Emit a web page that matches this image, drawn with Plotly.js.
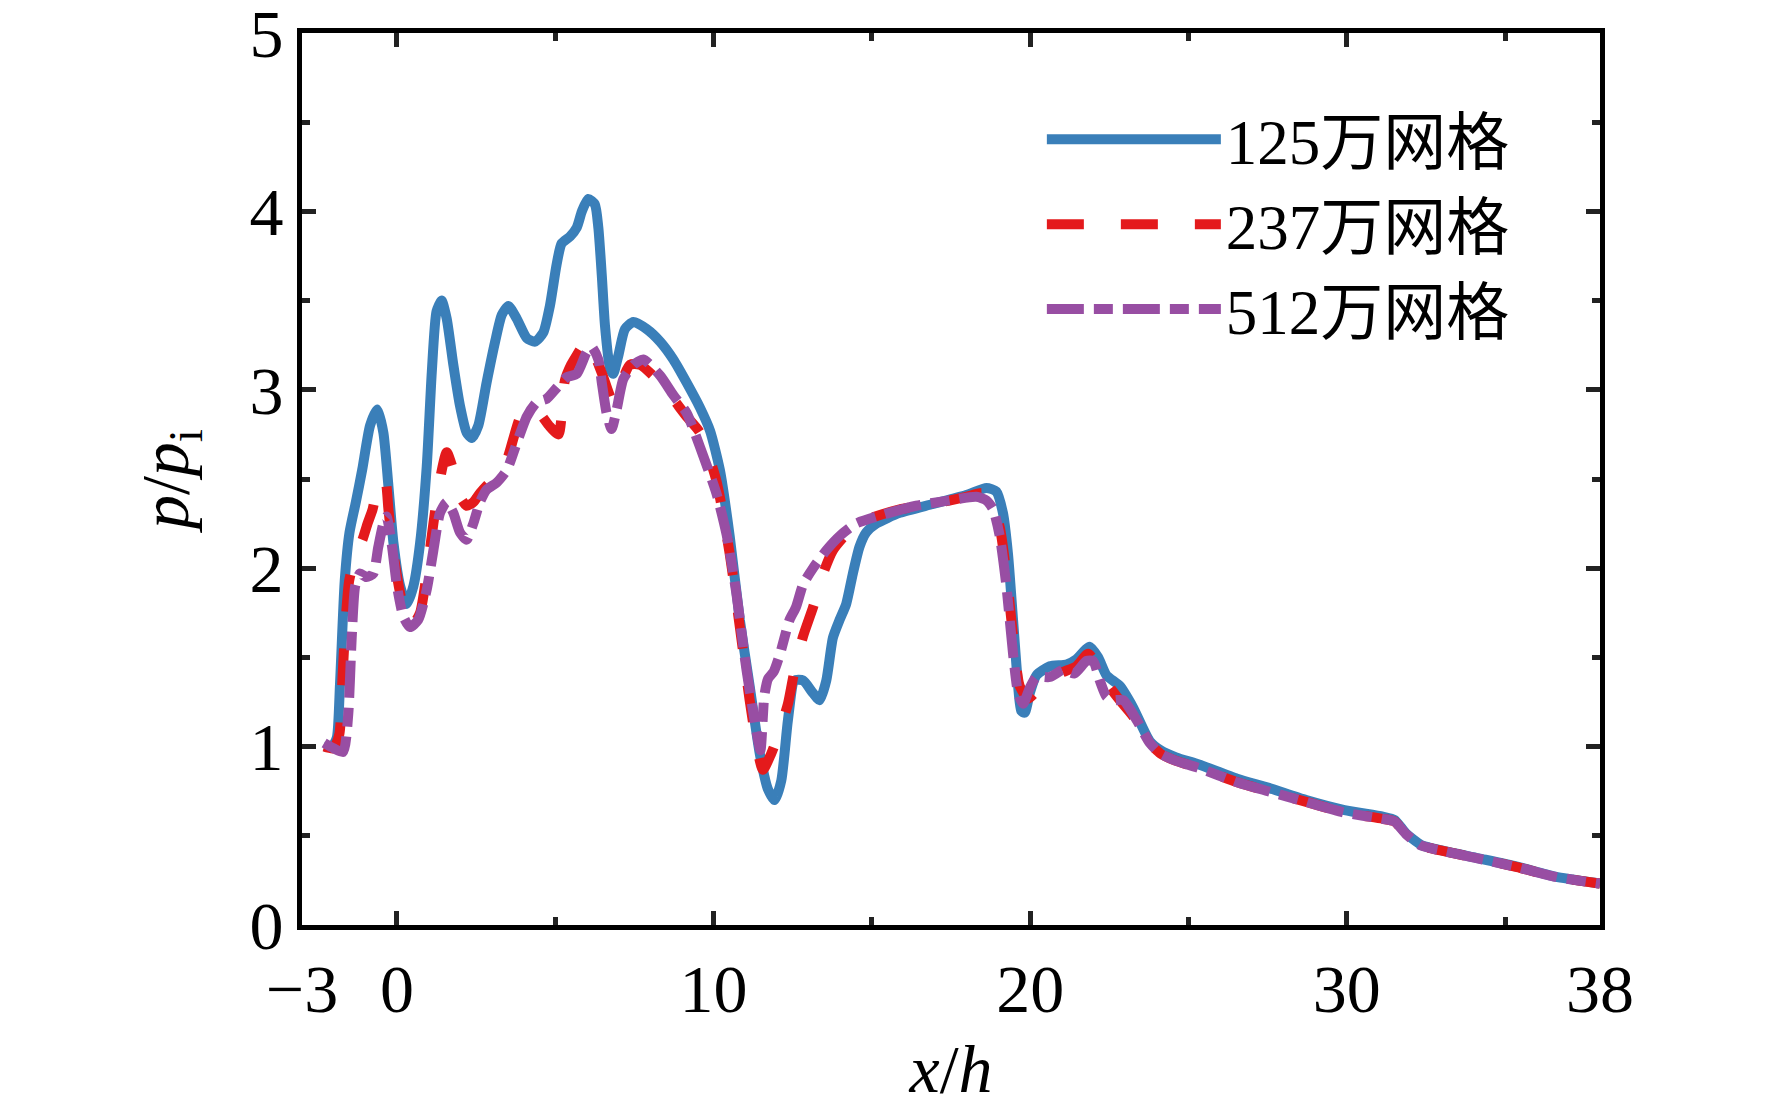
<!DOCTYPE html>
<html>
<head>
<meta charset="utf-8">
<script src="https://cdn.plot.ly/plotly-3.0.1.min.js"></script>
<style>
  html, body { margin: 0; padding: 0; background: #fff; }
  #chart { width: 1772px; height: 1111px; }
</style>
</head>
<body>
<div id="chart"></div>
<script>
// 125万网格
const xCoarse = [-2.3, -2.05, -1.9, -1.8, -1.65, -1.5, -1.3, -1.1, -0.85, -0.62, -0.43, -0.27, -0.11, 0.1, 0.31, 0.52, 0.73, 0.94, 1.1, 1.25, 1.41, 1.57, 1.78, 1.99, 2.2, 2.36, 2.57, 2.83, 3.1, 3.31, 3.52, 3.78, 4.1, 4.36, 4.62, 4.83, 5.04, 5.2, 5.47, 5.68, 5.84, 6.04, 6.25, 6.36, 6.47, 6.57, 6.73, 6.83, 6.99, 7.2, 7.47, 7.89, 8.31, 8.73, 9.15, 9.57, 9.89, 10.2, 10.51, 10.83, 11.14, 11.46, 11.72, 11.93, 12.14, 12.35, 12.56, 12.83, 13.14, 13.35, 13.56, 13.77, 13.98, 14.19, 14.4, 14.61, 14.82, 15.14, 15.88, 16.93, 17.98, 18.62, 18.93, 19.14, 19.3, 19.46, 19.62, 19.72, 19.83, 19.99, 20.2, 20.62, 21.15, 21.46, 21.88, 22.15, 22.41, 22.83, 23.25, 23.78, 24.12, 24.61, 25.33, 26.54, 27.51, 28.72, 29.93, 31.14, 31.51, 31.87, 32.35, 32.96, 34.17, 35.38, 36.59, 37.92, 38];
const yCoarse = [1.00, 1.00, 1.05, 1.35, 1.93, 2.20, 2.37, 2.55, 2.80, 2.89, 2.76, 2.46, 2.14, 1.90, 1.80, 1.90, 2.14, 2.57, 3.10, 3.44, 3.50, 3.40, 3.14, 2.91, 2.76, 2.73, 2.80, 3.04, 3.27, 3.42, 3.47, 3.40, 3.29, 3.27, 3.32, 3.47, 3.70, 3.82, 3.86, 3.91, 4.00, 4.07, 4.04, 3.91, 3.64, 3.36, 3.12, 3.09, 3.19, 3.34, 3.38, 3.34, 3.27, 3.17, 3.04, 2.90, 2.77, 2.55, 2.18, 1.71, 1.34, 0.96, 0.76, 0.70, 0.81, 1.15, 1.37, 1.37, 1.30, 1.26, 1.37, 1.61, 1.71, 1.80, 1.97, 2.12, 2.20, 2.25, 2.31, 2.36, 2.41, 2.45, 2.43, 2.31, 2.08, 1.71, 1.34, 1.20, 1.19, 1.30, 1.40, 1.45, 1.46, 1.49, 1.56, 1.50, 1.40, 1.34, 1.22, 1.03, 0.98, 0.94, 0.90, 0.82, 0.77, 0.70, 0.644, 0.607, 0.589, 0.514, 0.449, 0.42, 0.374, 0.327, 0.271, 0.234, 0.232];

// 237万网格
const xMedium = [-2.3, -2.0, -1.82, -1.72, -1.62, -1.51, -1.3, -1.09, -0.93, -0.77, -0.6, -0.38, -0.27, -0.11, 0.1, 0.31, 0.52, 0.73, 0.94, 1.15, 1.36, 1.57, 1.78, 1.99, 2.2, 2.41, 2.62, 2.94, 3.2, 3.5, 3.9, 4.2, 4.5, 4.8, 5.1, 5.3, 5.5, 5.8, 5.94, 6.1, 6.3, 6.5, 6.83, 7.04, 7.36, 7.68, 8.2, 8.63, 9.15, 9.57, 10.09, 10.51, 10.83, 11.14, 11.41, 11.56, 11.82, 12.09, 12.35, 12.56, 12.83, 13.14, 13.46, 13.77, 14.19, 14.82, 15.88, 16.93, 17.98, 18.51, 18.83, 19.04, 19.25, 19.46, 19.67, 19.94, 20.2, 20.52, 20.94, 21.46, 21.83, 22.15, 22.41, 22.83, 23.25, 23.78, 24.12, 24.61, 25.33, 26.54, 27.51, 28.72, 29.93, 31.14, 31.51, 31.87, 32.35, 32.96, 34.17, 35.38, 36.59, 37.92, 38];
const yMedium = [1.00, 0.99, 1.07, 1.39, 1.71, 1.93, 2.08, 2.16, 2.25, 2.33, 2.46, 2.50, 2.33, 2.08, 1.86, 1.71, 1.69, 1.75, 1.97, 2.25, 2.50, 2.65, 2.55, 2.40, 2.35, 2.37, 2.42, 2.48, 2.50, 2.62, 2.85, 2.91, 2.87, 2.80, 2.75, 3.05, 3.14, 3.23, 3.28, 3.23, 3.17, 3.08, 2.93, 3.02, 3.14, 3.14, 3.06, 2.97, 2.85, 2.76, 2.49, 2.08, 1.67, 1.26, 0.96, 0.87, 0.96, 1.09, 1.24, 1.43, 1.62, 1.78, 1.97, 2.10, 2.19, 2.27, 2.33, 2.36, 2.40, 2.42, 2.34, 2.23, 1.97, 1.62, 1.34, 1.27, 1.31, 1.35, 1.41, 1.45, 1.52, 1.45, 1.36, 1.26, 1.17, 1.02, 0.96, 0.92, 0.88, 0.80, 0.75, 0.69, 0.63, 0.595, 0.58, 0.51, 0.445, 0.418, 0.372, 0.325, 0.27, 0.234, 0.232];

// 512万网格
const xFine = [-2.3, -2.0, -1.7, -1.54, -1.43, -1.32, -1.17, -0.96, -0.75, -0.59, -0.43, -0.33, -0.17, 0.0, 0.2, 0.41, 0.67, 0.94, 1.15, 1.36, 1.57, 1.78, 1.99, 2.2, 2.41, 2.62, 2.83, 3.15, 3.47, 3.78, 4.1, 4.41, 4.73, 5.04, 5.36, 5.68, 5.99, 6.15, 6.36, 6.47, 6.62, 6.78, 6.94, 7.15, 7.47, 7.78, 8.31, 8.73, 9.15, 9.57, 10.09, 10.41, 10.72, 11.04, 11.35, 11.48, 11.6, 11.72, 11.9, 12.1, 12.4, 12.6, 12.83, 13.14, 13.56, 13.98, 14.5, 15.35, 16.4, 17.45, 18.3, 18.62, 18.83, 19.04, 19.25, 19.46, 19.62, 19.78, 19.99, 20.2, 20.62, 21.04, 21.4, 21.78, 21.99, 22.2, 22.41, 22.62, 22.94, 23.36, 23.78, 24.12, 24.61, 25.33, 26.54, 27.51, 28.72, 29.93, 31.14, 31.51, 31.87, 32.35, 32.96, 34.17, 35.38, 36.59, 37.92, 38];
const yFine = [1.02, 0.99, 0.97, 1.18, 1.61, 1.90, 1.97, 1.95, 1.97, 2.12, 2.25, 2.29, 2.14, 1.90, 1.73, 1.67, 1.71, 1.88, 2.10, 2.31, 2.37, 2.31, 2.20, 2.16, 2.25, 2.37, 2.44, 2.48, 2.55, 2.70, 2.85, 2.93, 2.95, 3.01, 3.07, 3.09, 3.21, 3.24, 3.17, 3.04, 2.87, 2.78, 2.89, 3.06, 3.14, 3.17, 3.08, 2.97, 2.87, 2.68, 2.42, 2.19, 1.86, 1.43, 1.09, 0.98, 1.28, 1.38, 1.42, 1.52, 1.71, 1.78, 1.91, 2.00, 2.10, 2.18, 2.25, 2.30, 2.35, 2.38, 2.40, 2.38, 2.33, 2.18, 1.90, 1.52, 1.30, 1.24, 1.33, 1.39, 1.39, 1.43, 1.41, 1.48, 1.48, 1.37, 1.28, 1.26, 1.26, 1.15, 1.02, 0.96, 0.92, 0.88, 0.80, 0.75, 0.69, 0.63, 0.595, 0.58, 0.51, 0.445, 0.418, 0.372, 0.325, 0.27, 0.234, 0.232];

const seriesNames = ['125万网格', '237万网格', '512万网格'];
const xTickVals = [-3, 0, 10, 20, 30, 38];
const xTickText = ['−3', '0', '10', '20', '30', '38'];
const xMinorVals = [5, 15, 25, 35];
const yTickVals = [0, 1, 2, 3, 4, 5];

const colors = { blue: '#3a7fb9', red: '#e41a1c', purple: '#984ea3' };
const serif = '"Liberation Serif", "Times New Roman", "Noto Sans CJK SC", serif';

const traces = [
    {
        x: xCoarse, y: yCoarse, name: seriesNames[0], type: 'scatter', mode: 'lines',
        line: { color: colors.blue, width: 10, shape: 'spline', smoothing: 0.6 }
    },
    {
        x: xMedium, y: yMedium, name: seriesNames[1], type: 'scatter', mode: 'lines',
        line: { color: colors.red, width: 10, shape: 'spline', smoothing: 0.6, dash: '37px,37px' }
    },
    {
        x: xFine, y: yFine, name: seriesNames[2], type: 'scatter', mode: 'lines',
        line: { color: colors.purple, width: 10, shape: 'spline', smoothing: 0.6, dash: '37px,10px,19px,10px' }
    }
];

const axisCommon = {
    showline: true, linecolor: '#000', linewidth: 5, mirror: 'ticks',
    ticks: 'inside', ticklen: 14, tickwidth: 5, tickcolor: '#222',
    showgrid: false, zeroline: false,
    ticklabeloverflow: 'allow',
    tickfont: { family: serif, size: 68, color: '#000' }
};

const layout = {
    width: 1772, height: 1111,
    margin: { l: 302, r: 172, t: 33, b: 186 },
    paper_bgcolor: '#fff', plot_bgcolor: '#fff',
    showlegend: true,
    legend: {
        x: 0.570, y: 0.934, xanchor: 'left', yanchor: 'top',
        bgcolor: 'rgba(0,0,0,0)', borderwidth: 0,
        itemwidth: 174, tracegroupgap: 0,
        font: { family: serif, size: 63, color: '#000' }
    },
    xaxis: Object.assign({}, axisCommon, {
        range: [-3, 38],
        tickmode: 'array', tickvals: xTickVals, ticktext: xTickText,
        minor: { tickmode: 'array', tickvals: xMinorVals, ticks: 'inside', ticklen: 8, tickwidth: 5, tickcolor: '#222' },
        title: { text: '<i>x</i>/<i>h</i>', font: { family: serif, size: 68, color: '#000' }, standoff: 20 }
    }),
    yaxis: Object.assign({}, axisCommon, {
        range: [0, 5],
        tickmode: 'array', tickvals: yTickVals,
        minor: { dtick: 0.5, ticks: 'inside', ticklen: 8, tickwidth: 5, tickcolor: '#222' },
        title: { text: '<i>p</i>/<i>p</i><sub>i</sub>', font: { family: serif, size: 68, color: '#000' }, standoff: 40 }
    })
};

Plotly.newPlot('chart', traces, layout, { displayModeBar: false, staticPlot: true });
</script>
</body>
</html>
